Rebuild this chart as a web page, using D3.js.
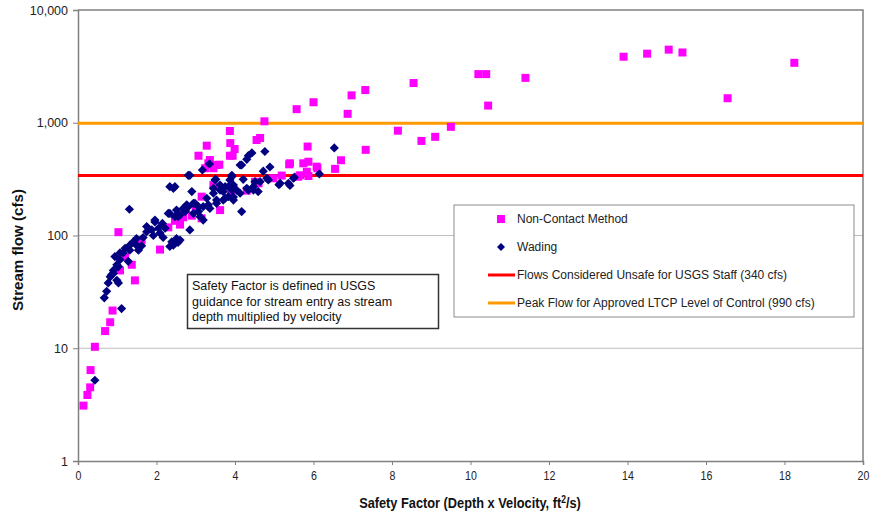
<!DOCTYPE html>
<html>
<head>
<meta charset="utf-8">
<script src="https://cdn.jsdelivr.net/npm/d3@7"></script>
<style>
	body { margin: 0; background: #fff; }
	svg { display: block; font-family: "Liberation Sans", Arial, sans-serif; }
</style>
</head>
<body>
<svg id="chart" width="872" height="516"></svg>
<script>
// values
const nonContact = [
	[0.14, 3.1], [0.24, 3.85], [0.31, 4.5], [0.32, 6.4], [0.43, 10.3], [0.69, 14.2], [0.82, 17], [0.88, 21.6],
	[1.03, 107], [1.07, 49], [1.2, 65], [1.37, 55], [1.45, 40], [1.62, 91], [2.09, 75], [2.3, 118],
	[2.47, 135], [2.6, 125], [2.68, 145], [2.75, 170], [2.9, 150], [3.0, 175], [3.15, 142], [3.15, 221],
	[3.45, 280], [3.62, 168], [3.9, 230], [4.3, 250], [4.51, 300], [4.6, 290], [4.98, 322], [5.19, 340],
	[5.61, 332], [5.66, 342], [5.83, 368], [5.87, 337], [5.38, 428], [5.4, 437], [5.74, 437], [5.87, 451],
	[6.08, 408], [6.1, 395], [6.55, 390], [6.7, 465], [5.85, 615], [7.33, 575], [3.07, 510], [3.28, 626],
	[3.32, 437], [3.36, 467], [3.45, 395], [3.24, 395], [3.53, 422], [3.6, 425], [3.87, 845], [3.88, 660],
	[3.99, 585], [3.87, 510], [3.94, 510], [4.55, 703], [4.64, 733], [4.75, 1030], [5.57, 1320], [6.0, 1520],
	[6.87, 1200], [6.97, 1750], [7.32, 1950], [8.55, 2250], [8.15, 850], [8.75, 690], [9.1, 750], [9.5, 920],
	[10.2, 2700], [10.4, 2700], [10.45, 1420], [11.4, 2500], [13.9, 3850], [14.5, 4100], [15.05, 4450],
	[15.4, 4200], [16.55, 1650], [18.25, 3400]
];

const wading = [
	[0.43, 5.2], [1.11, 22.5], [0.67, 28], [0.73, 32], [0.77, 38], [0.82, 43], [0.86, 45], [0.9, 46],
	[0.9, 49], [0.99, 40], [1.03, 38], [0.99, 55], [1.03, 53], [0.94, 65], [1.07, 61], [1.07, 70],
	[1.15, 70], [1.2, 77], [1.28, 59], [1.32, 74], [1.32, 82], [1.41, 88], [1.49, 82], [1.49, 94],
	[1.54, 74], [1.62, 81], [1.66, 96], [1.75, 108], [1.75, 120], [1.88, 112], [1.92, 100], [1.96, 132],
	[1.96, 137], [2.05, 116], [2.09, 105], [2.17, 96], [2.22, 116], [2.15, 128], [2.34, 80], [2.43, 82],
	[2.43, 85], [2.51, 88], [2.55, 87], [2.6, 91], [2.39, 88], [2.51, 94], [2.85, 112], [2.3, 157],
	[2.34, 157], [2.51, 168], [2.55, 147], [2.47, 147], [2.6, 152], [2.68, 174], [2.73, 163], [2.77, 187],
	[2.81, 180], [2.94, 157], [2.94, 193], [2.98, 193], [3.07, 163], [3.07, 180], [3.11, 147], [3.19, 137],
	[3.19, 180], [3.28, 214], [3.32, 187], [3.36, 174], [3.45, 237], [3.53, 193], [3.53, 206], [3.62, 253],
	[3.7, 206], [3.7, 245], [3.75, 214], [3.75, 271], [3.83, 221], [3.83, 271], [3.87, 311], [3.96, 206],
	[3.96, 219], [3.96, 280], [4.04, 253], [4.13, 237], [4.17, 163], [4.3, 262], [4.34, 253], [4.47, 253],
	[4.47, 271], [4.59, 245], [4.64, 300], [4.81, 322], [4.85, 311], [4.21, 315], [4.51, 300], [3.49, 311],
	[3.62, 280], [3.45, 262], [3.92, 253], [3.92, 342], [1.31, 171], [2.34, 271], [2.47, 271], [2.81, 342],
	[2.85, 342], [2.43, 262], [2.9, 245], [3.17, 381], [3.35, 431], [3.51, 315], [3.92, 332], [4.13, 422],
	[4.17, 422], [4.3, 474], [4.34, 510], [4.43, 540], [4.76, 556], [4.89, 405], [4.72, 372], [5.12, 282],
	[5.15, 290], [5.36, 290], [5.4, 278], [5.49, 322], [5.51, 328], [6.15, 352], [6.53, 598]
];

const thresholds = [
	{ value: 340, color: "#ff0000", label: "Flows Considered Unsafe for USGS Staff (340 cfs)" },
	{ value: 990, color: "#ff9900", label: "Peak Flow for Approved LTCP Level of Control (990 cfs)" },
];

const xTicks = [0, 2, 4, 6, 8, 10, 12, 14, 16, 18, 20];
const yTicks = [1, 10, 100, 1000, 10000];
const gridValues = [10, 100, 1000];

const noteLines = [
	"Safety Factor is defined in USGS",
	"guidance for stream entry as stream",
	"depth multiplied by velocity",
];

const magenta = "#ff00ff",
	navy = "#000080",
	axisGray = "#808080";

const svg = d3.select("#chart");

const x = d3.scaleLinear().domain([0, 20]).range([78, 863]);
const y = d3.scaleLog().domain([1, 10000]).range([461, 10]);

// grid
svg.append("g")
	.selectAll("line")
	.data(gridValues)
	.join("line")
	.attr("x1", x(0))
	.attr("x2", x(20))
	.attr("y1", (d) => y(d))
	.attr("y2", (d) => y(d))
	.attr("stroke", "#bdbdbd")
	.attr("stroke-width", 1);

// frame top / right
svg.append("path")
	.attr("d", `M${x(0)},${y(10000)}H${x(20)}V${y(1)}`)
	.attr("fill", "none")
	.attr("stroke", axisGray)
	.attr("stroke-width", 1.5);

const yAxis = svg.append("g")
	.attr("transform", `translate(${x(0)},0)`)
	.call(d3.axisLeft(y).tickValues(yTicks).tickFormat(d3.format(",")).tickSize(5).tickPadding(5));

const xAxis = svg.append("g")
	.attr("transform", `translate(0,${y(1)})`)
	.call(d3.axisBottom(x).tickValues(xTicks).tickFormat(d3.format("d")).tickSize(4).tickPadding(6));

[yAxis, xAxis].forEach((a) => {
	a.select(".domain").attr("stroke", axisGray).attr("stroke-width", 1.5);
	a.selectAll(".tick line").attr("stroke", axisGray);
	a.selectAll(".tick text")
		.attr("fill", "#222")
		.style("font-size", "12.5px")
		.style("font-family", "'Liberation Sans', Arial, sans-serif");
});
xAxis.selectAll(".tick text").attr("transform", "scale(0.85,1)");

// threshold lines
svg.append("g")
	.selectAll("line")
	.data(thresholds)
	.join("line")
	.attr("x1", x(0))
	.attr("x2", x(20))
	.attr("y1", (d) => y(d.value))
	.attr("y2", (d) => y(d.value))
	.attr("stroke", (d) => d.color)
	.attr("stroke-width", 3);

const diamond = "M0,-4.6L4.6,0L0,4.6L-4.6,0Z";

svg.append("g")
	.selectAll("rect")
	.data(nonContact)
	.join("rect")
	.attr("x", (d) => x(d[0]) - 4)
	.attr("y", (d) => y(d[1]) - 4)
	.attr("width", 8)
	.attr("height", 8)
	.attr("fill", magenta);

svg.append("g")
	.selectAll("path")
	.data(wading)
	.join("path")
	.attr("d", diamond)
	.attr("transform", (d) => `translate(${x(d[0])},${y(d[1])})`)
	.attr("fill", navy);

// axis titles
svg.append("text")
	.attr("transform", "translate(23,250) rotate(-90)")
	.attr("text-anchor", "middle")
	.attr("font-weight", "bold")
	.attr("font-size", 14.5)
	.attr("textLength", 122)
	.attr("lengthAdjust", "spacingAndGlyphs")
	.attr("fill", "#111")
	.text("Stream flow (cfs)");

// condensed bold x title, squeezed with a horizontal scale
const xt = svg.append("text")
	.attr("text-anchor", "middle")
	.attr("font-weight", "bold")
	.attr("font-size", 15)
	.attr("fill", "#111");
xt.append("tspan").text("Safety Factor (Depth x Velocity, ft");
xt.append("tspan").attr("dy", -5).attr("font-size", 10).text("2");
xt.append("tspan").attr("dy", 5).text("/s)");
const xtWidth = xt.node().getComputedTextLength() || 270;
xt.attr("transform", `translate(470,508) scale(${222 / xtWidth},1)`);

// legend
const legend = svg.append("g");
legend.append("rect")
	.attr("x", 454)
	.attr("y", 205)
	.attr("width", 400)
	.attr("height", 112)
	.attr("fill", "#fff")
	.attr("stroke", "#8c8c8c")
	.attr("stroke-width", 1);

const legendRows = [
	{ type: "square", label: "Non-Contact Method" },
	{ type: "diamond", label: "Wading" },
	...thresholds.map((t) => ({ type: "line", color: t.color, label: t.label })),
];
const ly = d3.scalePoint().domain(d3.range(legendRows.length)).range([219, 303]);

const row = legend.selectAll("g.row")
	.data(legendRows)
	.join("g")
	.attr("class", "row")
	.attr("transform", (d, i) => `translate(0,${ly(i)})`);

row.each(function (d) {
	const g = d3.select(this);
	if (d.type === "square") {
		g.append("rect").attr("x", 497).attr("y", -4).attr("width", 8).attr("height", 8).attr("fill", magenta);
	} else if (d.type === "diamond") {
		g.append("path").attr("d", "M0,-4L4,0L0,4L-4,0Z").attr("transform", "translate(501,0)").attr("fill", navy);
	} else {
		g.append("line").attr("x1", 488).attr("x2", 515).attr("stroke", d.color).attr("stroke-width", 3);
	}
});

row.append("text")
	.attr("x", 517)
	.attr("dy", "0.35em")
	.attr("font-size", 12)
	.attr("fill", "#222")
	.text((d) => d.label);

// annotation
const note = svg.append("g");
note.append("rect")
	.attr("x", 187.5)
	.attr("y", 274.5)
	.attr("width", 251)
	.attr("height", 54)
	.attr("fill", "#fff")
	.attr("stroke", "#333")
	.attr("stroke-width", 1.5);
note.selectAll("text")
	.data(noteLines)
	.join("text")
	.attr("x", 192)
	.attr("y", (d, i) => 290 + i * 15.5)
	.attr("font-size", 12.5)
	.attr("fill", "#111")
	.text((d) => d);
</script>
</body>
</html>
